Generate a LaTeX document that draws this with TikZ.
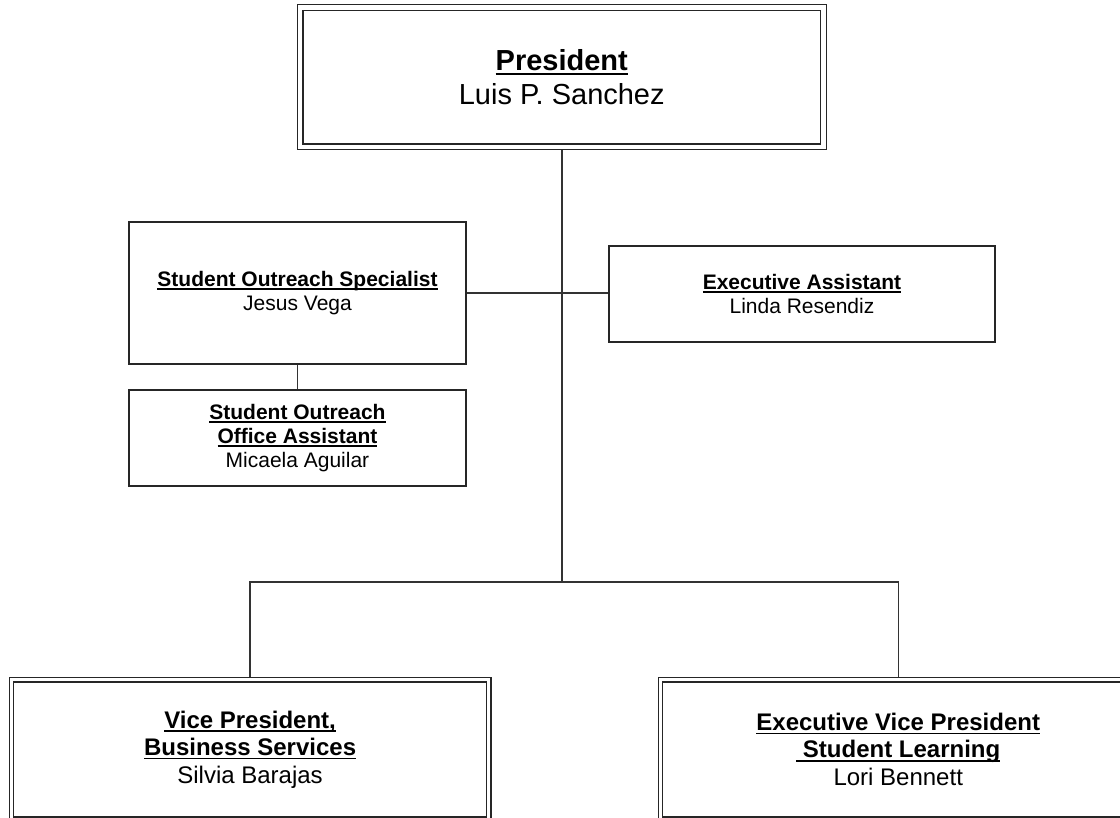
\documentclass[tikz,border=0pt]{standalone}
\usepackage{fontspec}
\setmainfont{Liberation Sans}
\newsavebox\ttlbox
\newcommand\ttl[1]{{\bfseries\sbox\ttlbox{#1}\rlap{\rule[-0.16em]{\wd\ttlbox}{0.07em}}\usebox\ttlbox}}
\pgfdeclarelayer{back}
\pgfdeclarelayer{bg}
\pgfsetlayers{back,bg,main}
\begin{document}
\begin{tikzpicture}[x=1pt,y=-1pt,
  dbox/.style={draw=black!85, double, double distance=2.8pt, line width=1.4pt, inner sep=0pt, align=center},
  pbox/.style={dbox, double distance=4.2pt},
  sbox/.style={draw=black!85, line width=1.6pt, inner sep=0pt, align=center},
  conn/.style={draw=black!80, line width=1.5pt},
  big/.style={font=\fontsize{29}{34}\selectfont},
  mid/.style={font=\fontsize{24}{27.5}\selectfont},
  small/.style={font=\fontsize{21}{24}\selectfont}]
\begin{pgfonlayer}{back}
\fill[white] (0,0) rectangle (1120,818);
\end{pgfonlayer}
\useasboundingbox (0,0) rectangle (1120,818);

\node[pbox, big, minimum width=523.5pt, minimum height=139.5pt] (pres) at (561.75,77.25)
  {\ttl{President}\\Luis P. Sanchez};

\node[sbox, small, minimum width=337pt, minimum height=142pt] (sos) at (297.5,293)
  {\ttl{Student Outreach Specialist}\\Jesus Vega};
\node[sbox, small, minimum width=337pt, minimum height=96pt] (oa) at (297.5,438)
  {\ttl{Student Outreach}\\\ttl{Office Assistant}\\Micaela Aguilar};
\node[sbox, small, minimum width=386pt, minimum height=96pt] (ea) at (802,294)
  {\ttl{Executive Assistant}\\Linda Resendiz};

\node[dbox, mid, minimum width=477.2pt, minimum height=139.3pt] (vp) at (250.1,749.35)
  {\ttl{Vice President,}\\\ttl{Business Services}\\Silvia Barajas};
\node[dbox, mid, minimum width=475.5pt, minimum height=139.3pt] (evp) at (898.25,749.35)
  {\ttl{Executive Vice President}\\\ttl{\hspace*{0.28em}Student Learning}\\Lori Bennett};

\coordinate (jl) at (vp.north |- 0,582);
\coordinate (jm) at (pres.south |- jl);
\coordinate (jr) at (evp.north |- jl);

\begin{pgfonlayer}{bg}
\draw[conn] (pres.south) -- (jm);
\draw[conn] (vp.north) -- (jl) -- (jr) -- (evp.north);
\draw[conn] (sos.east) -- (sos.east -| ea.west);
\draw[conn] (sos.south) -- (oa.north);
\end{pgfonlayer}
\end{tikzpicture}
\end{document}
